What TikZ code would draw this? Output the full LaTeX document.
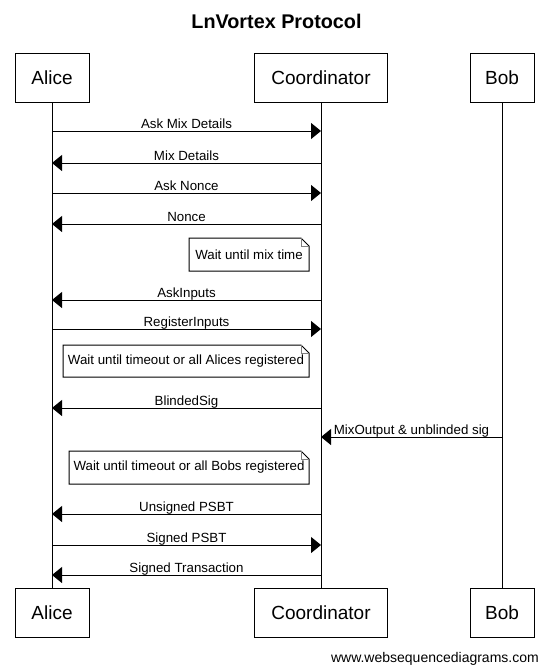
\documentclass[tikz,border=0pt]{standalone}
\usepackage{fontspec}
\setmainfont{Liberation Sans}
\usetikzlibrary{arrows.meta}
\tikzset{
  actor/.style={draw, line width=1pt, minimum height=49pt, inner sep=0pt, font=\fontsize{19}{22}\selectfont},
  lifeline/.style={line width=1pt},
  msg/.style={line width=1pt, -{Triangle[length=10pt,width=16pt]}},
  msglabel/.style={anchor=base, yshift=3pt, inner sep=0pt, font=\fontsize{13.3}{15}\selectfont},
  notetext/.style={inner sep=0pt, font=\fontsize{13.3}{15}\selectfont},
  notebox/.style={draw, line width=1pt, fill=white},
  fold/.style={draw=gray, line width=1pt},
}
\newcommand{\msgline}[5]{%
  \coordinate (#1s) at (#2,#4);
  \coordinate (#1e) at (#3,#4);
  \draw[msg] (#1s) -- node[msglabel]{#5} (#1e);}
\newcommand{\notebx}[6]{% name, x1, y1, x2, y2, text
  \node[notetext] (#1) at ({(#2+#4)/2},{(#3+#5)/2}) {#6};
  \draw[notebox] (#2,#3) -- ({#4-8},#3) -- (#4,{#3+8}) -- (#4,#5) -- (#2,#5) -- cycle;
  \draw[fold] ({#4-8},#3) -- ({#4-8},{#3+8}) -- (#4,{#3+8});
  \node[notetext] at (#1) {#6};}
\begin{document}
\begin{tikzpicture}[x=1pt,y=-1pt]
\useasboundingbox (0,0) rectangle (549,672);
\fill[white] (0,0) rectangle (549,672);
\node[inner sep=0pt, font=\fontsize{19.8}{22}\selectfont\bfseries] (title) at (276.5,21) {LnVortex Protocol};
% actors top
\node[actor, minimum width=74pt] (aT) at (52,78) {Alice};
\node[actor, minimum width=133pt] (cT) at (321,78) {Coordinator};
\node[actor, minimum width=64pt] (bT) at (502,78) {Bob};
% actors bottom
\node[actor, minimum width=74pt] (aB) at (52,613) {Alice};
\node[actor, minimum width=133pt] (cB) at (321,613) {Coordinator};
\node[actor, minimum width=64pt] (bB) at (502,613) {Bob};
% lifelines
\draw[lifeline] (aT) -- (aB);
\draw[lifeline] (cT) -- (cB);
\draw[lifeline] (bT) -- (bB);
% messages
\msgline{m1}{52}{321}{131}{Ask Mix Details}
\msgline{m2}{321}{52}{163}{Mix Details}
\msgline{m3}{52}{321}{193}{Ask Nonce}
\msgline{m4}{321}{52}{224}{Nonce}
\notebx{n1}{189}{238}{309}{271}{Wait until mix time}
\msgline{m5}{321}{52}{300}{AskInputs}
\msgline{m6}{52}{321}{329}{RegisterInputs}
\notebx{n2}{63}{345}{309}{377}{Wait until timeout or all Alices registered}
\msgline{m7}{321}{52}{408}{BlindedSig}
\msgline{m8}{502}{321}{437}{MixOutput \& unblinded sig}
\notebx{n3}{69}{451}{309}{484}{Wait until timeout or all Bobs registered}
\msgline{m9}{321}{52}{514}{Unsigned PSBT}
\msgline{m10}{52}{321}{545}{Signed PSBT}
\msgline{m11}{321}{52}{575}{Signed Transaction}
% watermark
\node[anchor=base east, inner sep=0pt, font=\fontsize{14}{16}\selectfont] (wm) at (539,662) {www.websequencediagrams.com};
\end{tikzpicture}
\end{document}
